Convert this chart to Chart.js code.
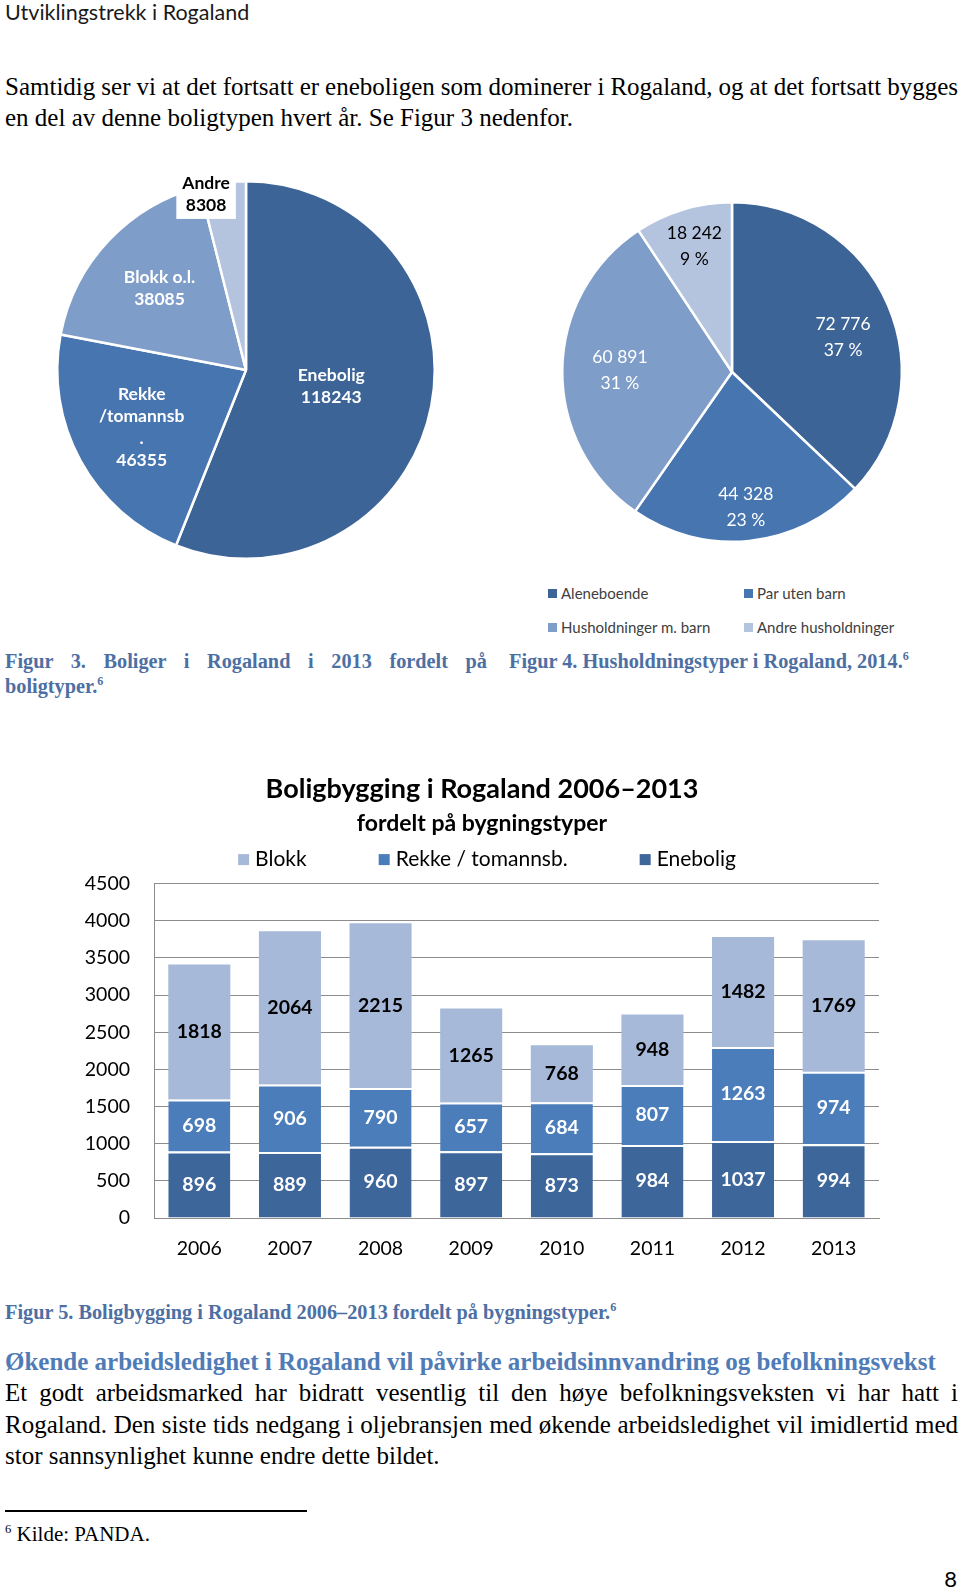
<!DOCTYPE html>
<html>
<head>
<meta charset="utf-8">
<title>Utviklingstrekk i Rogaland</title>
<script src="https://cdn.jsdelivr.net/npm/chart.js@4.4.1/dist/chart.umd.min.js"></script>
<style>
  html, body { margin: 0; padding: 0; background: #fff; }
  body { width: 960px; height: 1591px; position: relative; overflow: hidden; }
  .t { position: absolute; white-space: nowrap; }
  .sans { font-family: Lato, "Noto Sans", sans-serif; color: #1a1a1a; }
  .serif { font-family: "Liberation Serif", "Times New Roman", serif; color: #000; font-size: 25px; line-height: 30px; }
  .cap { font-family: "Liberation Serif", serif; font-weight: bold; color: #4d6fa3; font-size: 20.3px; line-height: 26px; }
  .head { font-family: "Liberation Serif", serif; font-weight: bold; color: #4f7bb6; font-size: 25px; line-height: 30px; }
  .j { text-align: justify; text-align-last: justify; white-space: normal; word-spacing: -4px; }
  sup { font-size: 60%; line-height: 0; }
  canvas { position: absolute; }
  #houseLegend { position: absolute; left: 548px; top: 584px; display: grid;
    grid-template-columns: 196px 196px; row-gap: 16px;
    font-family: Lato, "Noto Sans", sans-serif; font-size: 15px; color: #404040; }
  #houseLegend span.sq { display: inline-block; width: 9px; height: 9px; margin-right: 4px; vertical-align: 1px; }
</style>
</head>
<body>

<div class="t sans" style="left:5px; top:0px; font-size:21.5px; line-height:24px;">Utviklingstrekk i Rogaland</div>

<div class="t serif j" style="left:5px; top:72px; width:953px;">Samtidig ser vi at det fortsatt er eneboligen som dominerer i Rogaland, og at det fortsatt bygges</div>
<div class="t serif" style="left:5px; top:103px;">en del av denne boligtypen hvert år. Se Figur 3 nedenfor.</div>

<canvas id="homesPie" width="400" height="400" style="left:46px; top:170px;"></canvas>
<canvas id="housePie" width="362" height="362" style="left:551px; top:191px;"></canvas>
<div id="houseLegend"></div>

<div class="t cap j" style="left:5px; top:648px; width:482px;">Figur 3. Boliger i Rogaland i 2013 fordelt på</div>
<div class="t cap" style="left:5px; top:673px;">boligtyper.<sup>6</sup></div>
<div class="t cap" style="left:509px; top:648px;">Figur 4. Husholdningstyper i Rogaland, 2014.<sup>6</sup></div>

<canvas id="buildBar" width="840" height="515" style="left:60px; top:760px;"></canvas>

<div class="t cap" style="left:5px; top:1299px;">Figur 5. Boligbygging i Rogaland 2006–2013 fordelt på bygningstyper.<sup>6</sup></div>

<div class="t head" style="left:5px; top:1347px;">Økende arbeidsledighet i Rogaland vil påvirke arbeidsinnvandring og befolkningsvekst</div>
<div class="t serif j" style="left:5px; top:1378px; width:953px;">Et godt arbeidsmarked har bidratt vesentlig til den høye befolkningsveksten vi har hatt i</div>
<div class="t serif j" style="left:5px; top:1410px; width:953px;">Rogaland. Den siste tids nedgang i oljebransjen med økende arbeidsledighet vil imidlertid med</div>
<div class="t serif" style="left:5px; top:1441px;">stor sannsynlighet kunne endre dette bildet.</div>

<div style="position:absolute; left:5px; top:1510px; width:302px; height:2px; background:#000;"></div>
<div class="t serif" style="left:5px; top:1520px; font-size:21px; line-height:28px;"><sup>6</sup> Kilde: PANDA.</div>

<div class="t sans" style="right:3px; top:1566px; font-size:22px; line-height:26px; color:#000;">8</div>

<script>
// Figur 3 - boliger 2013
const homeTypes = ['Enebolig', 'Rekke /tomannsb.', 'Blokk o.l.', 'Andre'];
const homeLabelText = ['Enebolig', 'Rekke\n/tomannsb\n.', 'Blokk o.l.', 'Andre'];
const homeCounts = [118243, 46355, 38085, 8308];

// Figur 4 - husholdningstyper 2014
const houseTypes = ['Aleneboende', 'Par uten barn', 'Husholdninger m. barn', 'Andre husholdninger'];
const houseCounts = [72776, 44328, 60891, 18242];

// Figur 5 - boligbygging 2006-2013
const years = ['2006', '2007', '2008', '2009', '2010', '2011', '2012', '2013'];
const enebolig = [896, 889, 960, 897, 873, 984, 1037, 994];
const rekke = [698, 906, 790, 657, 684, 807, 1263, 974];
const blokk = [1818, 2064, 2215, 1265, 768, 948, 1482, 1769];
const yTicks = [0, 500, 1000, 1500, 2000, 2500, 3000, 3500, 4000, 4500];

const pieColors = ['#3c6497', '#4675b0', '#7f9dc9', '#b4c4df'];
const SANS = 'Lato, "Noto Sans", sans-serif';

function spaced(n) {
  return String(n).replace(/\B(?=(\d{3})+(?!\d))/g, ' ');
}

// tekst inne i kakestykkene
const pieLabels = {
  id: 'pieLabels',
  afterDatasetsDraw(chart, args, opts) {
    const ctx = chart.ctx;
    const meta = chart.getDatasetMeta(0);
    meta.data.forEach((arc, i) => {
      const p = arc.getProps(['x', 'y', 'startAngle', 'endAngle', 'outerRadius'], true);
      const mid = (p.startAngle + p.endAngle) / 2;
      const r = p.outerRadius * opts.radius[i];
      const cx = p.x + Math.cos(mid) * r + (opts.nudgeX ? opts.nudgeX[i] : 0);
      const cy = p.y + Math.sin(mid) * r + (opts.nudgeY ? opts.nudgeY[i] : 0);
      const lines = opts.lines(i);
      const lh = opts.lineHeight;
      const h = lh * lines.length;
      ctx.save();
      ctx.font = opts.font;
      ctx.textAlign = 'center';
      ctx.textBaseline = 'middle';
      if (opts.boxed && opts.boxed[i]) {
        const w = Math.max(...lines.map(l => ctx.measureText(l).width)) + 12;
        ctx.fillStyle = '#fff';
        ctx.fillRect(cx - w / 2, cy - h / 2 - 3, w, h + 6);
      }
      ctx.fillStyle = opts.colors[i];
      lines.forEach((ln, k) => ctx.fillText(ln, cx, cy - h / 2 + lh * (k + 0.5)));
      ctx.restore();
    });
  }
};

function pieOptions(labelOpts) {
  return {
    responsive: false,
    animation: false,
    events: [],
    layout: { padding: 10 },
    plugins: {
      legend: { display: false },
      tooltip: { enabled: false },
      pieLabels: labelOpts
    }
  };
}

new Chart(document.getElementById('homesPie'), {
  type: 'pie',
  data: {
    labels: homeTypes,
    datasets: [{
      data: homeCounts,
      backgroundColor: pieColors,
      borderColor: '#fff',
      borderWidth: 2.5
    }]
  },
  options: pieOptions({
    font: 'bold 17.5px ' + SANS,
    lineHeight: 22,
    radius: [0.46, 0.63, 0.63, 0.94],
    nudgeX: [0, 0, 0, -18],
    colors: ['#fff', '#fff', '#fff', '#000'],
    boxed: [false, false, false, true],
    lines: i => homeLabelText[i].split('\n').concat([String(homeCounts[i])])
  }),
  plugins: [pieLabels]
});

const houseTotal = houseCounts.reduce((a, b) => a + b, 0);
new Chart(document.getElementById('housePie'), {
  type: 'pie',
  data: {
    labels: houseTypes,
    datasets: [{
      data: houseCounts,
      backgroundColor: pieColors,
      borderColor: '#fff',
      borderWidth: 2.5
    }]
  },
  options: pieOptions({
    font: '17.5px ' + SANS,
    lineHeight: 26,
    radius: [0.68, 0.8, 0.66, 0.77],
    nudgeX: [5, 0, 0, 0],
    nudgeY: [11, 0, 0, 0],
    colors: ['#fff', '#fff', '#fff', '#000'],
    lines: i => [spaced(houseCounts[i]), Math.round(houseCounts[i] / houseTotal * 100) + ' %']
  }),
  plugins: [pieLabels]
});

// forklaring under figur 4
const houseLegend = document.getElementById('houseLegend');
houseTypes.forEach((name, i) => {
  const item = document.createElement('div');
  item.innerHTML = '<span class="sq" style="background:' + pieColors[i] + '"></span>' + name;
  houseLegend.appendChild(item);
});

// tall i hver stolpedel
const barLabels = {
  id: 'barLabels',
  afterDatasetsDraw(chart, args, opts) {
    const ctx = chart.ctx;
    ctx.save();
    ctx.font = opts.font;
    ctx.textAlign = 'center';
    ctx.textBaseline = 'middle';
    chart.data.datasets.forEach((ds, di) => {
      const meta = chart.getDatasetMeta(di);
      ctx.fillStyle = opts.colors[di];
      meta.data.forEach((bar, i) => {
        const p = bar.getProps(['x', 'y', 'base'], true);
        ctx.fillText(String(ds.data[i]), p.x, (p.y + p.base) / 2);
      });
    });
    ctx.restore();
  }
};

// forklaring i én rad, Blokk først
const barLegend = {
  id: 'barLegend',
  afterDraw(chart, args, opts) {
    const ctx = chart.ctx;
    const items = chart.data.datasets.slice().reverse();
    ctx.save();
    ctx.font = opts.font;
    const widths = items.map(ds => opts.box + opts.boxGap + ctx.measureText(ds.label).width);
    const total = widths.reduce((a, b) => a + b, 0) + opts.gap * (items.length - 1);
    const tb = chart.titleBlock;
    let x = (tb.left + tb.right) / 2 - total / 2 + opts.shift;
    const y = chart.chartArea.top - opts.above;
    ctx.textAlign = 'left';
    ctx.textBaseline = 'middle';
    items.forEach((ds, i) => {
      ctx.fillStyle = ds.backgroundColor;
      ctx.fillRect(x, y - opts.box / 2, opts.box, opts.box);
      ctx.fillStyle = opts.color;
      ctx.fillText(ds.label, x + opts.box + opts.boxGap, y);
      x += widths[i] + opts.gap;
    });
    ctx.restore();
  }
};

new Chart(document.getElementById('buildBar'), {
  type: 'bar',
  data: {
    labels: years,
    datasets: [
      { label: 'Enebolig', data: enebolig, backgroundColor: '#3d669a',
        borderColor: '#fff', borderWidth: { top: 2, left: 0, right: 0, bottom: 0 }, borderSkipped: 'start' },
      { label: 'Rekke / tomannsb.', data: rekke, backgroundColor: '#4a7dba',
        borderColor: '#fff', borderWidth: { top: 2, left: 0, right: 0, bottom: 0 }, borderSkipped: 'start' },
      { label: 'Blokk', data: blokk, backgroundColor: '#a7b9d9', borderWidth: 0 }
    ]
  },
  options: {
    responsive: false,
    animation: false,
    events: [],
    layout: { padding: { left: 25, right: 21, top: 0, bottom: 15 } },
    datasets: { bar: { categoryPercentage: 1, barPercentage: 0.685 } },
    plugins: {
      legend: { display: false },
      tooltip: { enabled: false },
      title: {
        display: true,
        text: 'Boligbygging i Rogaland 2006–2013',
        color: '#000',
        font: { family: SANS, size: 27, weight: 'bold', lineHeight: 1.2 },
        padding: { top: 12.8, bottom: 0 }
      },
      subtitle: {
        display: true,
        text: 'fordelt på bygningstyper',
        color: '#000',
        font: { family: SANS, size: 23, weight: 'bold', lineHeight: 1.2 },
        padding: { top: 4.2, bottom: 46.6 }
      },
      barLabels: {
        font: 'bold 19.5px ' + SANS,
        colors: ['#fff', '#fff', '#000']
      },
      barLegend: {
        font: '21px ' + SANS,
        color: '#000',
        box: 11,
        boxGap: 6,
        gap: 72,
        shift: 5,
        above: 24
      }
    },
    scales: {
      x: {
        stacked: true,
        grid: { display: false, drawTicks: false },
        border: { display: true, color: '#8c8c8c' },
        ticks: { color: '#000', padding: 19, font: { family: SANS, size: 19.5 } },
        afterFit: s => { s.height = 42; }
      },
      y: {
        stacked: true,
        min: 0,
        max: 4500,
        afterBuildTicks: s => { s.ticks = yTicks.map(v => ({ value: v })); },
        grid: { color: '#8c8c8c', drawTicks: false },
        border: { display: true, color: '#8c8c8c' },
        ticks: { color: '#000', padding: 24, font: { family: SANS, size: 19.5 }, callback: v => String(v) },
        afterFit: s => { s.width = 69; }
      }
    }
  },
  plugins: [barLabels, barLegend]
});
</script>
</body>
</html>
